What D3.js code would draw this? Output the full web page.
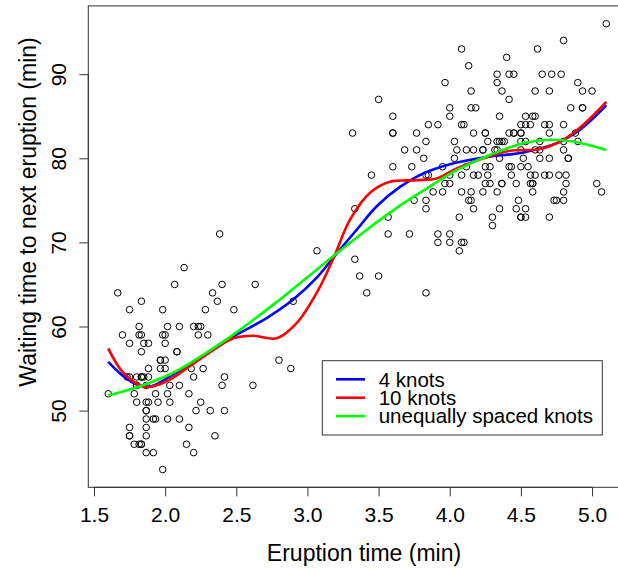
<!DOCTYPE html>
<html>
<head>
<meta charset="utf-8">
<script src="https://cdn.jsdelivr.net/npm/d3@7"></script>
<style>
  body { margin: 0; background: #fff; }
  svg { display: block; font-family: "Liberation Sans", Arial, Helvetica, sans-serif; }
</style>
</head>
<body>
<div id="chart"></div>
<script>
// Old Faithful: eruption time (min) and waiting time to next eruption (min)
var eruptions = [
  3.600,1.800,3.333,2.283,4.533,2.883,4.700,3.600,1.950,4.350,
  1.833,3.917,4.200,1.750,4.700,2.167,1.750,4.800,1.600,4.250,
  1.800,1.750,3.450,3.067,4.533,3.600,1.967,4.083,3.850,4.433,
  4.300,4.467,3.367,4.033,3.833,2.017,1.867,4.833,1.833,4.783,
  4.350,1.883,4.567,1.750,4.533,3.317,3.833,2.100,4.633,2.000,
  4.800,4.716,1.833,4.833,1.733,4.883,3.717,1.667,4.567,4.317,
  2.233,4.500,1.750,4.800,1.817,4.400,4.167,4.700,2.067,4.700,
  4.033,1.967,4.500,4.000,1.983,5.067,2.017,4.567,3.883,3.600,
  4.133,4.333,4.100,2.633,4.067,4.933,3.950,4.517,2.167,4.000,
  2.200,4.333,1.867,4.817,1.833,4.300,4.667,3.750,1.867,4.900,
  2.483,4.367,2.100,4.500,4.050,1.867,4.700,1.783,4.850,3.683,
  4.733,2.300,4.900,4.417,1.700,4.633,2.317,4.600,1.817,4.417,
  2.617,4.067,4.250,1.967,4.600,3.767,1.917,4.500,2.267,4.650,
  1.867,4.167,2.800,4.333,1.833,4.383,1.883,4.933,2.033,3.733,
  4.233,2.233,4.533,4.817,4.333,1.983,4.633,2.017,5.100,1.800,
  5.033,4.000,2.400,4.600,3.567,4.000,4.500,4.083,1.800,3.967,
  2.200,4.150,2.000,3.833,3.500,4.583,2.367,5.000,1.933,4.617,
  1.917,2.083,4.583,3.333,4.167,4.333,4.500,2.417,4.000,4.167,
  1.883,4.583,4.250,3.767,2.033,4.433,4.083,1.833,4.417,2.183,
  4.800,1.833,4.800,4.100,3.966,4.233,3.500,4.366,2.250,4.667,
  2.100,4.350,4.133,1.867,4.600,1.783,4.367,3.850,1.933,4.500,
  2.383,4.700,1.867,3.833,3.417,4.233,2.400,4.800,2.000,4.150,
  1.867,4.267,1.750,4.483,4.000,4.117,4.083,4.267,3.917,4.550,
  4.083,2.417,4.183,2.217,4.450,1.883,1.850,4.283,3.950,2.333,
  4.150,2.350,4.933,2.900,4.583,3.833,2.083,4.367,2.133,4.350,
  2.200,4.450,3.567,4.500,4.150,3.817,3.917,4.450,2.000,4.283,
  4.767,4.533,1.850,4.250,1.983,2.250,4.750,4.117,2.150,4.417,
  1.817,4.467
];
var waiting = [
  79,54,74,62,85,55,88,85,51,85,
  54,84,78,47,83,52,62,84,52,79,
  51,47,78,69,74,83,55,76,78,79,
  73,77,66,80,74,52,48,80,59,90,
  80,58,84,58,73,83,64,53,82,59,
  75,90,54,80,54,83,71,64,77,81,
  59,84,48,82,60,92,78,78,65,73,
  82,56,79,71,62,76,60,78,76,83,
  75,82,70,65,73,88,76,80,48,86,
  60,90,50,78,63,72,84,75,51,82,
  62,88,49,83,81,47,84,52,86,81,
  75,59,89,79,59,81,50,85,59,87,
  53,69,77,56,88,81,45,82,55,90,
  45,83,56,89,46,82,51,86,53,79,
  81,60,82,77,76,59,80,49,96,53,
  77,77,65,81,71,70,81,93,53,89,
  45,86,58,78,66,76,63,88,52,93,
  49,57,77,68,81,81,73,50,85,74,
  55,77,83,83,51,78,84,46,83,55,
  81,57,76,84,77,81,87,77,51,78,
  60,82,91,53,78,46,77,84,49,83,
  71,80,49,75,64,76,53,94,55,76,
  50,82,54,75,78,79,78,78,70,79,
  70,54,86,50,90,54,54,77,79,64,
  75,47,86,63,85,82,57,82,67,74,
  54,83,73,73,88,80,71,83,56,79,
  78,84,58,83,43,60,75,81,46,90,
  46,74
];

// fitted curves
var knots4X = [1.600,1.706,1.800,1.900,2.057,2.245,2.479,2.713,2.900,3.065,3.206,3.346,3.487,3.650,3.814,4.002,4.236,4.517,4.752,4.915,5.100];
var knots4Y = [55.8,54.1,53.1,52.9,54.3,56.3,58.8,61.0,63.2,65.8,68.7,71.5,74.3,76.6,78.2,79.3,80.1,80.7,81.8,83.4,86.3];

var knots10X = [1.600,1.706,1.858,2.011,2.175,2.338,2.479,2.619,2.784,2.924,3.065,3.182,3.299,3.440,3.580,3.768,3.908,4.049,4.236,4.423,4.634,4.798,4.939,5.100];
var knots10Y = [57.4,54.5,52.8,53.5,55.3,57.2,58.6,58.9,58.6,60.4,64.0,68.1,72.7,75.9,77.2,77.4,77.6,78.8,80.0,80.9,81.1,82.2,84.0,86.7];

var unequalX = [1.600,1.823,2.057,2.292,2.526,2.760,2.995,3.206,3.417,3.627,3.838,4.049,4.283,4.517,4.705,4.868,5.100];
var unequalY = [51.8,52.9,54.5,56.9,59.6,62.6,65.8,68.7,71.5,74.1,76.4,78.6,80.4,81.8,82.2,82.0,81.0];

var xTicks = [1.5, 2.0, 2.5, 3.0, 3.5, 4.0, 4.5, 5.0];
var yTicks = [50, 60, 70, 80, 90];

var legendLabels = ["4 knots", "10 knots", "unequally spaced knots"];
var legendColors = ["#0000ff", "#ff0000", "#00ff00"];

var width = 618,
    height = 568;

var svg = d3.select("#chart").append("svg")
    .attr("width", width)
    .attr("height", height);

var x = d3.scaleLinear()
    .domain([1.46, 5.24])
    .range([88.3, 626.2]);

var y = d3.scaleLinear()
    .domain([40.88, 98.12])
    .range([487.3, 5.9]);

var tickFont = 21,
    titleFont = 23,
    legendFont = 20.5;

// plot box
svg.append("rect")
    .attr("x", x.range()[0])
    .attr("y", y.range()[1])
    .attr("width", x.range()[1] - x.range()[0])
    .attr("height", y.range()[0] - y.range()[1])
    .attr("fill", "none")
    .attr("stroke", "#333")
    .attr("stroke-width", 1);

// x axis
var xAxis = d3.axisBottom(x)
    .tickValues(xTicks)
    .tickSize(9)
    .tickPadding(11)
    .tickFormat(d3.format(".1f"));

var gx = svg.append("g")
    .attr("transform", "translate(0," + y.range()[0] + ")")
    .call(xAxis);
gx.select(".domain").attr("stroke", "#333")
    .attr("d", "M" + x(1.5) + ",0H" + x(5.0));
gx.selectAll(".tick line").attr("stroke", "#333");
gx.selectAll(".tick text")
    .attr("fill", "#000")
    .style("font-size", tickFont + "px")
    .style("font-family", "Liberation Sans, Arial, sans-serif");

// y axis (labels parallel to axis, like R)
var yAxis = d3.axisLeft(y)
    .tickValues(yTicks)
    .tickSize(9)
    .tickFormat(d3.format("d"));

var gy = svg.append("g")
    .attr("transform", "translate(" + x.range()[0] + ",0)")
    .call(yAxis);
gy.select(".domain").attr("stroke", "#333")
    .attr("d", "M0," + y(50) + "V" + y(90));
gy.selectAll(".tick line").attr("stroke", "#333");
gy.selectAll(".tick text")
    .attr("fill", "#000")
    .attr("x", null)
    .attr("dy", null)
    .attr("text-anchor", "middle")
    .attr("transform", "translate(-22.5,0) rotate(-90)")
    .style("font-size", tickFont + "px")
    .style("font-family", "Liberation Sans, Arial, sans-serif");

// axis titles
svg.append("text")
    .attr("x", 364)
    .attr("y", 561)
    .attr("text-anchor", "middle")
    .style("font-size", titleFont + "px")
    .text("Eruption time (min)");

svg.append("text")
    .attr("transform", "translate(36,212) rotate(-90)")
    .attr("text-anchor", "middle")
    .style("font-size", titleFont + "px")
    .text("Waiting time to next eruption (min)");

// points
var points = eruptions.map(function(d, i) { return { e: d, w: waiting[i] }; });

svg.append("g")
    .selectAll("circle")
    .data(points)
    .enter()
    .append("circle")
    .attr("cx", function(d) { return x(d.e); })
    .attr("cy", function(d) { return y(d.w); })
    .attr("r", 3.3)
    .attr("fill", "none")
    .attr("stroke", "#000")
    .attr("stroke-width", 1);

// curves
var line = d3.line()
    .x(function(d) { return x(d[0]); })
    .y(function(d) { return y(d[1]); })
    .curve(d3.curveCatmullRom.alpha(0.5));

var curves = [
  { xs: knots4X, ys: knots4Y, color: legendColors[0] },
  { xs: knots10X, ys: knots10Y, color: legendColors[1] },
  { xs: unequalX, ys: unequalY, color: legendColors[2] }
];

svg.append("g")
    .selectAll("path")
    .data(curves)
    .enter()
    .append("path")
    .attr("d", function(c) {
      return line(c.xs.map(function(v, i) { return [v, c.ys[i]]; }));
    })
    .attr("fill", "none")
    .attr("stroke", function(c) { return c.color; })
    .attr("stroke-width", 2.6);

// legend
var legend = svg.append("g");

legend.append("rect")
    .attr("x", 322.3)
    .attr("y", 360.7)
    .attr("width", 280)
    .attr("height", 74.3)
    .attr("fill", "#fff")
    .attr("stroke", "#333")
    .attr("stroke-width", 1);

var items = legend.selectAll(".item")
    .data(legendLabels)
    .enter()
    .append("g")
    .attr("class", "item")
    .attr("transform", function(d, i) {
      return "translate(336," + (379.3 + i * 18.4) + ")";
    });

items.append("line")
    .attr("x1", 0)
    .attr("x2", 29)
    .attr("stroke", function(d, i) { return legendColors[i]; })
    .attr("stroke-width", 2.6);

items.append("text")
    .attr("x", 42.7)
    .attr("y", 7.3)
    .style("font-size", legendFont + "px")
    .text(function(d) { return d; });
</script>
</body>
</html>
